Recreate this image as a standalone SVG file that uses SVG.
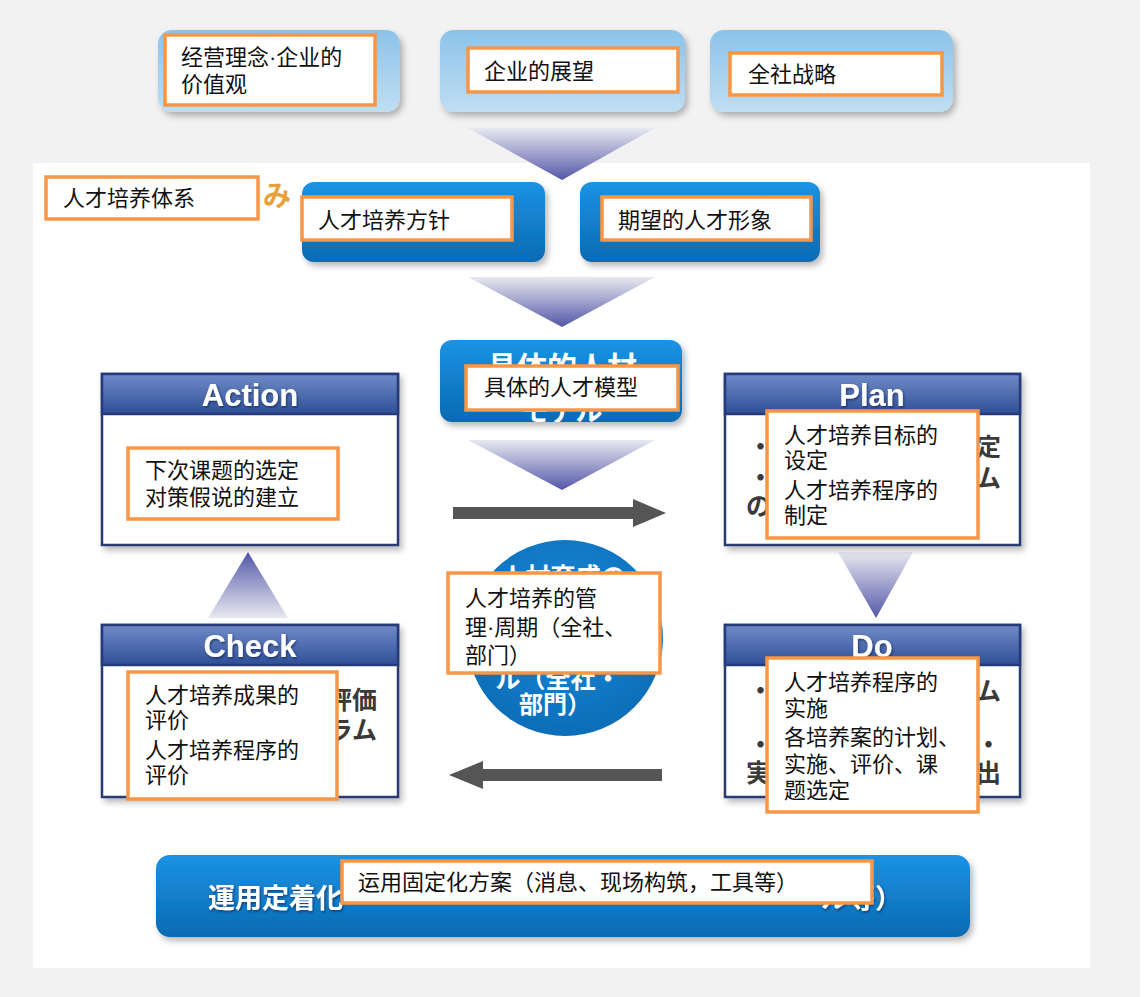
<svg xmlns="http://www.w3.org/2000/svg" width="1146" height="997" viewBox="0 0 1146 997">
<defs>
<style>
.lbl{fill:#ffffff;stroke:#f79646;stroke-width:3.5}
.t{font-family:"Noto Sans CJK SC","Noto Sans",sans-serif;font-size:22px;fill:#111111}
.dot{font-family:"Liberation Sans",Arial,sans-serif}
.jp{font-family:"Noto Sans CJK JP","Noto Sans",sans-serif;font-weight:bold;font-size:25px;fill:#3a3a3a}
.jpe{font-family:"Noto Sans CJK JP","Noto Sans",sans-serif;font-weight:bold;font-size:25px;fill:#3a3a3a;text-anchor:end}
.jpw{font-family:"Noto Sans CJK JP","Noto Sans",sans-serif;font-weight:bold;fill:#ffffff}
.hd{font-family:"Liberation Sans",Arial,sans-serif;font-weight:bold;font-size:31px;fill:#ffffff;text-anchor:middle}
.body{fill:#ffffff;stroke:#2b3b72;stroke-width:2.5}
.hdr{fill:url(#gHdr);stroke:#253a78;stroke-width:2.5}
.arrow{fill:#555555}
</style>
<linearGradient id="gLight" x1="0" y1="0" x2="0" y2="1">
<stop offset="0" stop-color="#8cc3e9"/><stop offset="1" stop-color="#bfdef3"/>
</linearGradient>
<linearGradient id="gBlue" x1="0" y1="0" x2="0" y2="1">
<stop offset="0" stop-color="#1b93e4"/><stop offset="1" stop-color="#0a6ab3"/>
</linearGradient>
<linearGradient id="gHdr" x1="0" y1="0" x2="0" y2="1">
<stop offset="0" stop-color="#6f8bc8"/><stop offset="1" stop-color="#2f4f96"/>
</linearGradient>
<linearGradient id="gDown" x1="0" y1="0" x2="0" y2="1">
<stop offset="0" stop-color="#e8e9f0"/><stop offset="1" stop-color="#5357a8"/>
</linearGradient>
<linearGradient id="gUp" x1="0" y1="1" x2="0" y2="0">
<stop offset="0" stop-color="#e8e9f0"/><stop offset="1" stop-color="#5357a8"/>
</linearGradient>
<radialGradient id="gCirc" cx="0.5" cy="0.4" r="0.6">
<stop offset="0" stop-color="#1a8cdc"/><stop offset="1" stop-color="#0c6db8"/>
</radialGradient>
<filter id="sh" x="-10%" y="-10%" width="125%" height="130%">
<feDropShadow dx="3" dy="4" stdDeviation="3" flood-color="#000000" flood-opacity="0.28"/>
</filter>
<filter id="tsh" x="-10%" y="-20%" width="120%" height="150%">
<feDropShadow dx="1" dy="1.5" stdDeviation="1" flood-color="#102050" flood-opacity="0.7"/>
</filter>
<clipPath id="cModel"><rect x="440" y="340" width="242" height="82" rx="12"/></clipPath>
<clipPath id="cCirc"><circle cx="565" cy="638" r="98"/></clipPath>
<clipPath id="cBar"><rect x="156" y="855" width="814" height="82" rx="14"/></clipPath>
</defs>

<rect x="0" y="0" width="1146" height="997" fill="#f2f2f2"/>
<rect x="1140" y="0" width="6" height="997" fill="#ffffff"/>
<rect x="33" y="163" width="1057" height="805" fill="#ffffff"/>

<g id="connectors">
<polygon points="468,128 655,128 562,180" fill="url(#gDown)"/>
<polygon points="468,277 655,277 562,327" fill="url(#gDown)"/>
<polygon points="468,440 655,440 562,490" fill="url(#gDown)"/>
<polygon points="838,552 913,552 876,618" fill="url(#gDown)"/>
<polygon points="248,552 208,618 288,618" fill="url(#gUp)"/>
<g class="arrow">
<rect x="453" y="507" width="184" height="12"/>
<polygon points="633,499 666,513 633,527"/>
<rect x="480" y="769" width="182" height="12"/>
<polygon points="483,761 449,775 483,789"/>
</g>
</g>

<g id="node-philosophy">
<rect x="158" y="30" width="242" height="82" rx="14" fill="url(#gLight)" filter="url(#sh)"/>
<rect class="lbl" x="165" y="35" width="210" height="70"/>
<text class="t" x="181" y="65">经营理念<tspan class="dot">·</tspan>企业的</text>
<text class="t" x="181" y="92">价值观</text>
</g>
<g id="node-vision">
<rect x="440" y="30" width="245" height="82" rx="14" fill="url(#gLight)" filter="url(#sh)"/>
<rect class="lbl" x="468" y="48" width="210" height="44"/>
<text class="t" x="484" y="79">企业的展望</text>
</g>
<g id="node-strategy">
<rect x="710" y="30" width="243" height="82" rx="14" fill="url(#gLight)" filter="url(#sh)"/>
<rect class="lbl" x="730" y="53" width="212" height="42"/>
<text class="t" x="748" y="82">全社战略</text>
</g>

<g id="node-system-title">
<text class="jpw" x="291" y="206" font-size="28" text-anchor="end" style="fill:#e8a13a">み</text>
<rect class="lbl" x="46" y="177" width="212" height="42"/>
<text class="t" x="63" y="206">人才培养体系</text>
</g>

<g id="node-policy">
<rect x="302" y="182" width="243" height="80" rx="12" fill="url(#gBlue)" filter="url(#sh)"/>
<rect class="lbl" x="302" y="197" width="210" height="43"/>
<text class="t" x="318" y="228">人才培养方针</text>
</g>
<g id="node-image">
<rect x="580" y="182" width="240" height="80" rx="12" fill="url(#gBlue)" filter="url(#sh)"/>
<rect class="lbl" x="602" y="197" width="209" height="43"/>
<text class="t" x="618" y="228">期望的人才形象</text>
</g>

<g id="node-model">
<rect x="440" y="340" width="242" height="82" rx="12" fill="url(#gBlue)" filter="url(#sh)"/>
<g clip-path="url(#cModel)">
<text class="jpw" x="562" y="378" font-size="30" text-anchor="middle">具体的人材</text>
<text class="jpw" x="562" y="421" font-size="27" text-anchor="middle">モデル</text>
</g>
<rect class="lbl" x="466" y="366" width="212" height="44"/>
<text class="t" x="484" y="395">具体的人才模型</text>
</g>

<g id="node-action">
<rect class="body" x="102" y="374" width="296" height="171" filter="url(#sh)"/>
<rect class="hdr" x="102" y="374" width="296" height="40"/>
<text class="hd" x="250" y="406" filter="url(#tsh)">Action</text>
<rect class="lbl" x="128" y="448" width="210" height="71"/>
<text class="t" x="145" y="478">下次课题的选定</text>
<text class="t" x="145" y="505">对策假说的建立</text>
</g>

<g id="node-plan">
<rect class="body" x="725" y="374" width="295" height="171" filter="url(#sh)"/>
<rect class="hdr" x="725" y="374" width="295" height="40"/>
<text class="hd" x="872" y="406" filter="url(#tsh)">Plan</text>
<text class="jp" x="748" y="456">・</text>
<text class="jp" x="748" y="487">・</text>
<text class="jp" x="746" y="515">の</text>
<text class="jpe" x="1001" y="456">定</text>
<text class="jpe" x="1001" y="487">ム</text>
<rect class="lbl" x="767" y="411" width="211" height="127"/>
<text class="t" x="784" y="443">人才培养目标的</text>
<text class="t" x="784" y="468">设定</text>
<text class="t" x="784" y="498">人才培养程序的</text>
<text class="t" x="784" y="523">制定</text>
</g>

<g id="node-cycle">
<circle cx="565" cy="638" r="98" fill="url(#gCirc)"/>
<g clip-path="url(#cCirc)">
<text class="jpw" x="563" y="586" font-size="25" text-anchor="middle">人材育成の</text>
<text class="jpw" x="558" y="688" font-size="25" text-anchor="middle">ル（全社・</text>
<text class="jpw" x="555" y="713" font-size="24" text-anchor="middle">部門）</text>
</g>
<rect class="lbl" x="448" y="573" width="212" height="100"/>
<text class="t" x="465" y="606">人才培养的管</text>
<text class="t" x="465" y="635">理<tspan class="dot">·</tspan>周期（全社、</text>
<text class="t" x="465" y="663">部门）</text>
</g>

<g id="node-check">
<rect class="body" x="102" y="625" width="296" height="172" filter="url(#sh)"/>
<rect class="hdr" x="102" y="625" width="296" height="40"/>
<text class="hd" x="250" y="657" filter="url(#tsh)">Check</text>
<text class="jpe" x="377" y="709">評価</text>
<text class="jpe" x="377" y="739">ラム</text>
<rect class="lbl" x="128" y="672" width="209" height="127"/>
<text class="t" x="145" y="703">人才培养成果的</text>
<text class="t" x="145" y="728">评价</text>
<text class="t" x="145" y="758">人才培养程序的</text>
<text class="t" x="145" y="783">评价</text>
</g>

<g id="node-do">
<rect class="body" x="725" y="625" width="295" height="172" filter="url(#sh)"/>
<rect class="hdr" x="725" y="625" width="295" height="40"/>
<text class="hd" x="872" y="657" filter="url(#tsh)">Do</text>
<text class="jp" x="748" y="700">・</text>
<text class="jp" x="748" y="754">・</text>
<text class="jp" x="746" y="782">実</text>
<text class="jpe" x="1001" y="700">ム</text>
<text class="jpe" x="1001" y="754">・</text>
<text class="jpe" x="1001" y="782">出</text>
<rect class="lbl" x="767" y="658" width="211" height="154"/>
<text class="t" x="784" y="690">人才培养程序的</text>
<text class="t" x="784" y="716">实施</text>
<text class="t" x="784" y="745">各培养案的计划、</text>
<text class="t" x="784" y="772">实施、评价、课</text>
<text class="t" x="784" y="798">题选定</text>
</g>

<g id="node-establish">
<rect x="156" y="855" width="814" height="82" rx="14" fill="url(#gBlue)" filter="url(#sh)"/>
<g clip-path="url(#cBar)" filter="url(#tsh)">
<text class="jpw" x="208" y="908" font-size="27">運用定着化</text>
<text class="jpw" x="902" y="908" font-size="27" text-anchor="end">ル等）</text>
</g>
<rect class="lbl" x="342" y="861" width="530" height="42"/>
<text class="t" x="358" y="890">运用固定化方案（消息、现场构筑，工具等）</text>
</g>
</svg>
